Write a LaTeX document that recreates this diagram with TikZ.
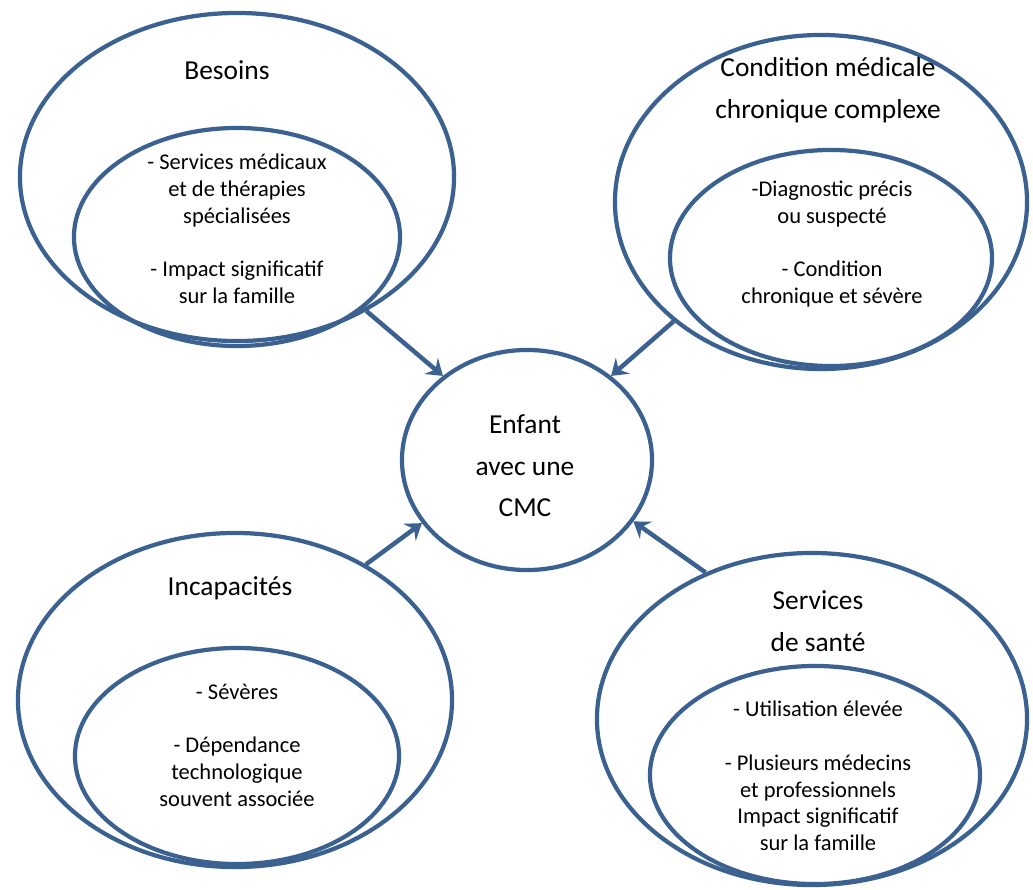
\documentclass[tikz,border=0pt]{standalone}
\usepackage{fontspec}
\setmainfont{Carlito}
\usetikzlibrary{shapes.geometric, arrows.meta, positioning}
\definecolor{cmcblue}{RGB}{59,97,145}
\tikzstyle{outerell} = [draw=cmcblue, line width=3pt, ellipse, inner sep=0pt]
\tikzstyle{innerell} = [draw=cmcblue, line width=3pt, ellipse, inner sep=0pt]
\tikzstyle{heading} = [align=center, inner sep=0pt, font=\fontsize{19.5}{29.5}\selectfont]
\tikzstyle{listtext} = [align=center, inner sep=0pt, font=\fontsize{16}{19}\selectfont]
\tikzstyle{line} = [draw=cmcblue, line width=3.2pt, -{Stealth[length=11pt, width=15pt, inset=4pt]}]
\newcommand{\connect}[2]{
  \path [line] (#1) -- (#2);}

\begin{document}
\begin{tikzpicture}[x=0.025cm, y=-0.025cm]
		\useasboundingbox (0,0) rectangle (1033,889);

		% Draw outer ellipses
		\node (besoins) [outerell, minimum width=10.85cm, minimum height=8.2cm] at (237,177) {};
		\node (condition) [outerell, minimum width=10.3cm, minimum height=8.35cm] at (821,202) {};
		\node (incap) [outerell, minimum width=10.85cm, minimum height=8.35cm] at (235,700) {};
		\node (services) [outerell, minimum width=10.75cm, minimum height=8.3cm] at (812,719) {};
		\node (enfant) [outerell, minimum width=6.25cm, minimum height=5.5cm] at (527,460) {};

		% Draw inner ellipses
		\path (besoins.center)+(0,60) node (ibesoins) [innerell, minimum width=8.15cm, minimum height=5.45cm] {};
		\path (condition.center)+(10,56) node (icondition) [innerell, minimum width=8.05cm, minimum height=5.4cm] {};
		\path (incap.center)+(2,56) node (iincap) [innerell, minimum width=8.1cm, minimum height=5.4cm] {};
		\path (services.center)+(3,56) node (iservices) [innerell, minimum width=8.25cm, minimum height=5.45cm] {};

		% Draw texts
		\node (tbesoins) [heading] at (227,70) {Besoins};
		\node (tcondition) [heading] at (828,90) {Condition médicale\\chronique complexe};
		\node (tincap) [heading] at (230,588) {Incapacités};
		\node (tservices) [heading] at (818,621) {Services\\de santé};
		\node (tenfant) [heading] at (525,466) {Enfant\\avec une\\CMC};

		\node (lbesoins) [listtext] at (237,229) {- Services médicaux\\et de thérapies\\spécialisées\\[19pt]- Impact significatif\\sur la famille};
		\node (lcondition) [listtext] at (832,244) {-Diagnostic précis\\ou suspecté\\[19pt]- Condition\\chronique et sévère};
		\node (lincap) [listtext] at (237,745) {- Sévères\\[19pt]- Dépendance\\technologique\\souvent associée};
		\node (lservices) [listtext] at (818,776) {- Utilisation élevée\\[19pt]- Plusieurs médecins\\et professionnels\\Impact significatif\\sur la famille};

		% Draw arrows between elements
		\connect{besoins.-46}{enfant.135}
		\connect{condition.-141}{enfant.45}
		\connect{incap.46}{enfant.-149}
		\connect{services.126}{enfant.-30}

	\end{tikzpicture}
\end{document}
